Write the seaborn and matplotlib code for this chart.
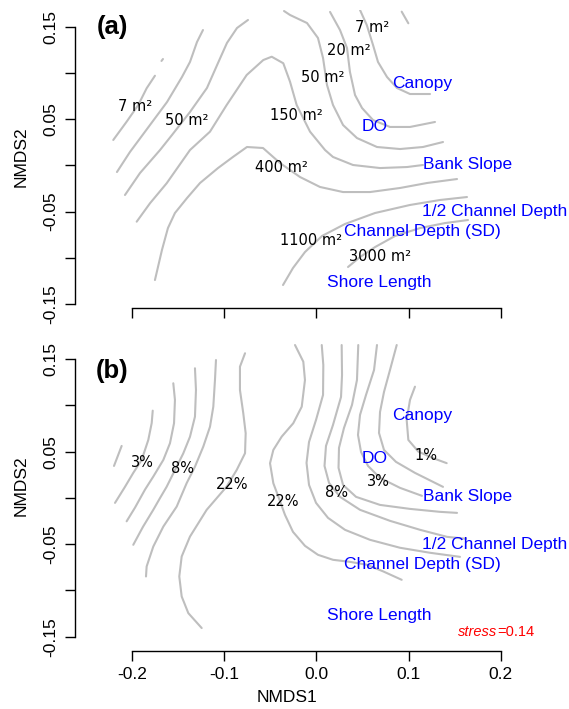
import pandas as pd, numpy as np
import matplotlib
matplotlib.use("Agg")
import matplotlib.pyplot as plt
import seaborn as sns

# ---- panel (a): shore area contours (NMDS1, NMDS2) ----
a_dot_x = [-0.1680, -0.1664]
a_dot_y = [0.1132, 0.1153]
a_7w_x = [-0.1751, -0.1841, -0.1932, -0.2058, -0.2203]
a_7w_y = [0.0972, 0.0836, 0.0655, 0.0474, 0.0276]
a_50w_x = [-0.1230, -0.1295, -0.1371, -0.1458, -0.1620, -0.1805, -0.2022, -0.2163]
a_50w_y = [0.1467, 0.1337, 0.1121, 0.0958, 0.0687, 0.0438, 0.0146, -0.0071]
a_50b_x = [-0.0742, -0.0861, -0.0970, -0.1067, -0.1187, -0.1371, -0.1566, -0.1696, -0.1913, -0.2076]
a_50b_y = [0.1576, 0.1489, 0.1327, 0.1110, 0.0839, 0.0579, 0.0330, 0.0167, -0.0082, -0.0320]
a_150_x = [-0.1949, -0.1805, -0.1624, -0.1371, -0.1154, -0.0973, -0.0756, -0.0576, -0.0485, -0.0359,
           -0.0286, -0.0214, -0.0069, 0.0094, 0.0180, 0.0397, 0.0690, 0.0983, 0.1156]
a_150_y = [-0.0609, -0.0410, -0.0193, 0.0167, 0.0366, 0.0655, 0.0980, 0.1142, 0.1178, 0.1107,
           0.0907, 0.0655, 0.0366, 0.0167, 0.0092, 0.0005, -0.0028, -0.0017, 0.0005]
a_400_x = [-0.1751, -0.1675, -0.1610, -0.1534, -0.1403, -0.1262, -0.1067, -0.0905, -0.0753, -0.0579,
           -0.0395, -0.0178, 0.0039, 0.0289, 0.0581, 0.0907, 0.1200, 0.1525]
a_400_y = [-0.1241, -0.0916, -0.0678, -0.0515, -0.0353, -0.0190, -0.0028, 0.0092, 0.0200, 0.0189,
           0.0027, -0.0125, -0.0233, -0.0288, -0.0288, -0.0244, -0.0190, -0.0147]
a_1100_x = [-0.0362, -0.0254, -0.0124, 0.0061, 0.0310, 0.0636, 0.1015, 0.1341, 0.1633]
a_1100_y = [-0.1295, -0.1111, -0.0938, -0.0764, -0.0634, -0.0515, -0.0428, -0.0374, -0.0342]
a_3000_x = [0.0343, 0.0473, 0.0636, 0.0853, 0.1124, 0.1395, 0.1644]
a_3000_y = [-0.1100, -0.0992, -0.0884, -0.0764, -0.0678, -0.0624, -0.0591]
a_top_x = [0.0925, 0.0997]
a_top_y = [0.1666, 0.1540]
a_7e_x = [0.0473, 0.0546, 0.0614, 0.0668, 0.0766, 0.0874, 0.1015, 0.1232]
a_7e_y = [0.1684, 0.1522, 0.1305, 0.1121, 0.0958, 0.0839, 0.0774, 0.0774]
a_20_x = [0.0148, 0.0256, 0.0332, 0.0364, 0.0419, 0.0495, 0.0614, 0.0798, 0.1015, 0.1286]
a_20_y = [0.1663, 0.1467, 0.1272, 0.1012, 0.0763, 0.0622, 0.0492, 0.0417, 0.0417, 0.0471]
a_50e_x = [-0.0351, -0.0286, -0.0102, 0.0017, 0.0072, 0.0115, 0.0180, 0.0289, 0.0440, 0.0657, 0.0907, 0.1156, 0.1373]
a_50e_y = [0.1673, 0.1630, 0.1543, 0.1381, 0.1164, 0.0872, 0.0655, 0.0438, 0.0297, 0.0200, 0.0178, 0.0200, 0.0254]

a_lab_text = ["7 m²", "50 m²", "150 m²", "400 m²", "1100 m²", "3000 m²", "7 m²", "20 m²", "50 m²"]
a_lab_x = [-0.1967, -0.1403, -0.0221, -0.0384, -0.0059, 0.0690, 0.0603, 0.0354, 0.0072]
a_lab_y = [0.0644, 0.0492, 0.0536, -0.0017, -0.0808, -0.0981, 0.1489, 0.1240, 0.0958]

# ---- panel (b): cover (%) contours ----
b_1_x = [-0.2112, -0.2195]
b_1_y = [0.0561, 0.0345]
b_3w_x = [-0.1775, -0.1786, -0.1823, -0.1895, -0.1986, -0.2076, -0.2184]
b_3w_y = [0.0942, 0.0809, 0.0626, 0.0410, 0.0270, 0.0119, -0.0054]
b_5w_x = [-0.1552, -0.1534, -0.1544, -0.1588, -0.1660, -0.1769, -0.1859, -0.1967, -0.2058]
b_5w_y = [0.1238, 0.1058, 0.0806, 0.0590, 0.0410, 0.0230, 0.0089, -0.0105, -0.0253]
b_8w_x = [-0.1317, -0.1306, -0.1317, -0.1371, -0.1444, -0.1534, -0.1624, -0.1696, -0.1769, -0.1881, -0.1986]
b_8w_y = [0.1400, 0.1166, 0.0877, 0.0660, 0.0480, 0.0300, 0.0120, -0.0002, -0.0129, -0.0313, -0.0507]
b_15w_x = [-0.1089, -0.1100, -0.1118, -0.1154, -0.1227, -0.1317, -0.1407, -0.1515, -0.1660, -0.1769, -0.1841, -0.1848]
b_15w_y = [0.1489, 0.1273, 0.0985, 0.0768, 0.0553, 0.0337, 0.0159, -0.0094, -0.0310, -0.0526, -0.0741, -0.0849]
b_22w_x = [-0.0774, -0.0829, -0.0829, -0.0793, -0.0767, -0.0774, -0.0864, -0.0973, -0.1190, -0.1371,
           -0.1461, -0.1487, -0.1461, -0.1389, -0.1244]
b_22w_y = [0.1562, 0.1417, 0.1165, 0.0914, 0.0698, 0.0482, 0.0302, 0.0122, -0.0129, -0.0418,
           -0.0633, -0.0849, -0.1065, -0.1245, -0.1406]
b_22e_x = [-0.0232, -0.0142, -0.0124, -0.0159, -0.0251, -0.0376, -0.0467, -0.0503, -0.0467, -0.0413,
           -0.0341, -0.0254, -0.0124, 0.0017, 0.0180, 0.0364, 0.0549, 0.0726, 0.0925]
b_22e_y = [0.1651, 0.1471, 0.1273, 0.0985, 0.0806, 0.0662, 0.0518, 0.0374, 0.0158, 0.0014,
           -0.0183, -0.0367, -0.0518, -0.0615, -0.0669, -0.0691, -0.0723, -0.0795, -0.0885]
b_15e_x = [0.0058, 0.0075, 0.0072, -0.0004, -0.0080, -0.0107, -0.0080, -0.0004, 0.0126, 0.0310, 0.0581, 0.0907, 0.1232, 0.1557]
b_15e_y = [0.1651, 0.1435, 0.1112, 0.0842, 0.0604, 0.0378, 0.0140, -0.0054, -0.0216, -0.0345, -0.0453, -0.0539, -0.0593, -0.0637]
b_8e_x = [0.0274, 0.0278, 0.0267, 0.0180, 0.0104, 0.0088, 0.0137, 0.0256, 0.0473, 0.0798, 0.1124, 0.1416, 0.1623]
b_8e_y = [0.1651, 0.1327, 0.1090, 0.0788, 0.0561, 0.0345, 0.0162, 0.0011, -0.0129, -0.0248, -0.0345, -0.0421, -0.0442]
b_5e_x = [0.0454, 0.0440, 0.0386, 0.0299, 0.0245, 0.0240, 0.0289, 0.0430, 0.0690, 0.1015, 0.1341, 0.1525]
b_5e_y = [0.1651, 0.1273, 0.1004, 0.0755, 0.0540, 0.0324, 0.0140, 0.0011, -0.0076, -0.0119, -0.0151, -0.0162]
b_3e_x = [0.0657, 0.0625, 0.0538, 0.0473, 0.0451, 0.0484, 0.0560, 0.0690, 0.0907, 0.1145]
b_3e_y = [0.1651, 0.1381, 0.1112, 0.0896, 0.0680, 0.0496, 0.0345, 0.0216, 0.0108, 0.0022]
b_2e_x = [0.0871, 0.0798, 0.0733, 0.0690, 0.0679, 0.0733, 0.0863, 0.1069, 0.1373]
b_2e_y = [0.1651, 0.1381, 0.1144, 0.0928, 0.0701, 0.0518, 0.0389, 0.0270, 0.0119]
b_1e_x = [0.1069, 0.1015, 0.0979, 0.0997, 0.1105, 0.1268, 0.1413]
b_1e_y = [0.1201, 0.1058, 0.0842, 0.0626, 0.0500, 0.0428, 0.0375]

b_lab_text = ["3%", "8%", "22%", "22%", "8%", "3%", "1%"]
b_lab_x = [-0.1886, -0.1452, -0.0915, -0.0362, 0.0213, 0.0668, 0.1189]
b_lab_y = [0.0383, 0.0313, 0.0140, -0.0043, 0.0054, 0.0173, 0.0453]

# environmental variable labels (same in both panels)
env_names = ["Canopy", "DO", "Bank Slope", "1/2 Channel Depth", "Channel Depth (SD)", "Shore Length"]
env_x = [0.1145, 0.0635, 0.1644, 0.1937, 0.1145, 0.0679]
env_y = [0.0890, 0.0420, 0.0014, -0.0500, -0.0720, -0.1273]

stress = 0.14

lines_a = [(a_dot_x, a_dot_y), (a_7w_x, a_7w_y), (a_50w_x, a_50w_y), (a_50b_x, a_50b_y),
           (a_150_x, a_150_y), (a_400_x, a_400_y), (a_1100_x, a_1100_y), (a_3000_x, a_3000_y),
           (a_top_x, a_top_y), (a_7e_x, a_7e_y), (a_20_x, a_20_y), (a_50e_x, a_50e_y)]
lines_b = [(b_1_x, b_1_y), (b_3w_x, b_3w_y), (b_5w_x, b_5w_y), (b_8w_x, b_8w_y), (b_15w_x, b_15w_y),
           (b_22w_x, b_22w_y), (b_22e_x, b_22e_y), (b_15e_x, b_15e_y), (b_8e_x, b_8e_y),
           (b_5e_x, b_5e_y), (b_3e_x, b_3e_y), (b_2e_x, b_2e_y), (b_1e_x, b_1e_y)]


def to_frame(lines):
    parts = []
    for i, (xs, ys) in enumerate(lines):
        parts.append(pd.DataFrame({'NMDS1': xs, 'NMDS2': ys, 'line': i}))
    return pd.concat(parts, ignore_index=True)


sns.set_theme(style="ticks")
plt.rcParams['font.family'] = ['Liberation Sans', 'DejaVu Sans']
plt.rcParams['axes.unicode_minus'] = False
plt.rcParams['text.color'] = 'black'
plt.rcParams['axes.labelcolor'] = 'black'

fig = plt.figure(figsize=(5.69, 7.09), dpi=100)
ax_a = fig.add_axes([0.1318, 0.5652, 0.7487, 0.4207])
ax_b = fig.add_axes([0.1318, 0.0822, 0.7487, 0.4326])

for ax, lines, ylim in [(ax_a, lines_a, (-0.1547, 0.1684)), (ax_b, lines_b, (-0.1651, 0.1662))]:
    sns.lineplot(data=to_frame(lines), x='NMDS1', y='NMDS2', units='line', estimator=None,
                 sort=False, color='#BEBEBE', lw=1.5, legend=False, ax=ax)
    for name, x, y in zip(env_names, env_x, env_y):
        ax.text(x, y, name, color='blue', fontsize=12.5, ha='center', va='center', clip_on=False)
    ax.set_xlim(-0.2618, 0.2002)
    ax.set_ylim(*ylim)
    ax.spines['top'].set_visible(False)
    ax.spines['right'].set_visible(False)
    ax.spines['left'].set_bounds(-0.15, 0.15)
    ax.spines['bottom'].set_bounds(-0.2, 0.2)
    for s in ['left', 'bottom']:
        ax.spines[s].set_linewidth(1.0)
        ax.spines[s].set_color('black')
    ax.set_yticks([-0.15, -0.10, -0.05, 0, 0.05, 0.10, 0.15])
    ax.set_yticklabels(['-0.15', '', '-0.05', '', '0.05', '', '0.15'], rotation=90, va='center')
    ax.set_xticks([-0.2, -0.1, 0, 0.1, 0.2])
    ax.tick_params(direction='out', length=7, width=1.0, colors='black', labelcolor='black',
                   labelsize=12.5, pad=5)
    ax.set_ylabel('NMDS2', fontsize=12.5, color='black')
    ax.set_facecolor('white')

ax_a.set_xticklabels([])
ax_a.set_xlabel('')
ax_b.set_xticklabels(['-0.2', '-0.1', '0.0', '0.1', '0.2'])
ax_b.set_xlabel('NMDS1', fontsize=12.5, color='black')
ax_a.yaxis.set_label_coords(-0.110, 0.507)
ax_b.yaxis.set_label_coords(-0.110, 0.537)
ax_b.xaxis.set_label_coords(0.4965, -0.127)

for t, x, y in zip(a_lab_text, a_lab_x, a_lab_y):
    ax_a.text(x, y, t, fontsize=10.5, family='DejaVu Sans', ha='center', va='center')
for t, x, y in zip(b_lab_text, b_lab_x, b_lab_y):
    ax_b.text(x, y, t, fontsize=10.5, family='DejaVu Sans', ha='center', va='center')

ax_a.text(-0.2217, 0.150, '(a)', fontsize=18.5, fontweight='bold', ha='center', va='center')
ax_b.text(-0.2217, 0.137, '(b)', fontsize=18.5, fontweight='bold', ha='center', va='center')

ax_b.text(0.1959, -0.1446, 'stress', color='red', fontsize=10.5, style='italic', ha='right', va='center', clip_on=False)
ax_b.text(0.1959, -0.1446, '=%.2f' % stress, color='red', fontsize=10.5, ha='left', va='center', clip_on=False)

fig.savefig('out.png', dpi=100, facecolor='white')
